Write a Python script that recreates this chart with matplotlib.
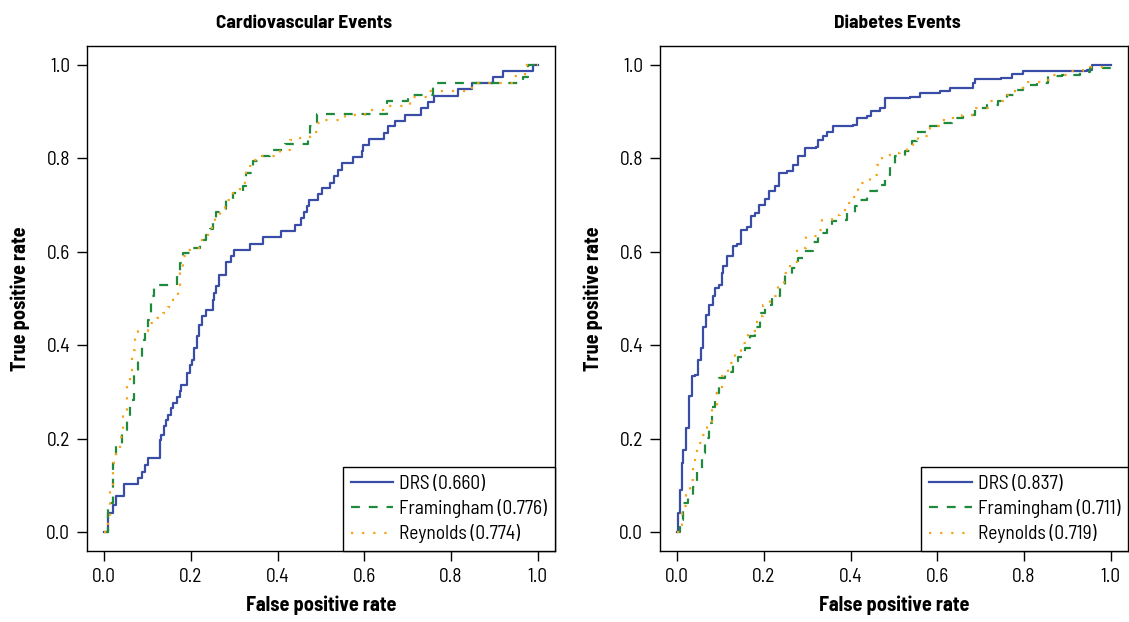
import matplotlib
matplotlib.use("Agg")
import matplotlib.pyplot as plt

plt.rcParams['font.family'] = ['Barlow Semi Condensed', 'DejaVu Sans']

# Cardiovascular events ROC curves (FPR, TPR)
cv_drs_fpr = [0, 0.009, 0.021, 0.026, 0.046, 0.078, 0.088, 0.094, 0.102, 0.128, 0.132, 0.138,
              0.142, 0.148, 0.153, 0.159, 0.167, 0.175, 0.178, 0.192, 0.198, 0.202, 0.208, 0.215,
              0.219, 0.225, 0.235, 0.250, 0.253, 0.259, 0.265, 0.280, 0.292, 0.299, 0.336, 0.367,
              0.408, 0.440, 0.455, 0.461, 0.467, 0.473, 0.494, 0.502, 0.521, 0.531, 0.540, 0.549,
              0.575, 0.594, 0.598, 0.611, 0.646, 0.655, 0.672, 0.694, 0.731, 0.748, 0.762, 0.817,
              0.848, 0.898, 0.921, 0.990, 1.0]
cv_drs_tpr = [0, 0.041, 0.059, 0.078, 0.104, 0.116, 0.130, 0.145, 0.158, 0.198, 0.209, 0.227,
              0.241, 0.252, 0.266, 0.277, 0.289, 0.303, 0.316, 0.341, 0.358, 0.369, 0.394, 0.419,
              0.444, 0.462, 0.475, 0.497, 0.512, 0.526, 0.551, 0.579, 0.592, 0.604, 0.617, 0.631,
              0.645, 0.658, 0.672, 0.686, 0.697, 0.710, 0.723, 0.736, 0.748, 0.763, 0.775, 0.790,
              0.803, 0.816, 0.829, 0.842, 0.855, 0.868, 0.880, 0.893, 0.907, 0.920, 0.934, 0.948,
              0.961, 0.974, 0.987, 1.0, 1.0]

cv_fram_fpr = [0, 0.009, 0.021, 0.028, 0.040, 0.052, 0.059, 0.068, 0.078, 0.086, 0.094, 0.102,
               0.107, 0.109, 0.115, 0.168, 0.175, 0.182, 0.205, 0.221, 0.235, 0.244, 0.252, 0.259,
               0.282, 0.298, 0.321, 0.328, 0.344, 0.363, 0.382, 0.417, 0.471, 0.475, 0.490, 0.652,
               0.702, 0.759, 0.967, 0.978, 1.0]
cv_fram_tpr = [0, 0.063, 0.148, 0.184, 0.220, 0.248, 0.284, 0.341, 0.369, 0.412, 0.430, 0.455,
               0.483, 0.505, 0.530, 0.555, 0.576, 0.597, 0.608, 0.626, 0.636, 0.649, 0.669, 0.686,
               0.711, 0.726, 0.740, 0.768, 0.795, 0.804, 0.818, 0.830, 0.843, 0.868, 0.895, 0.922,
               0.936, 0.961, 0.974, 1.0, 1.0]

cv_reyn_fpr = [0, 0.008, 0.013, 0.021, 0.028, 0.036, 0.044, 0.052, 0.059, 0.065, 0.071, 0.078,
               0.102, 0.121, 0.136, 0.148, 0.159, 0.171, 0.175, 0.182, 0.190, 0.209, 0.221, 0.240,
               0.248, 0.255, 0.267, 0.278, 0.298, 0.313, 0.325, 0.328, 0.344, 0.363, 0.405, 0.428,
               0.452, 0.475, 0.494, 0.509, 0.555, 0.602, 0.655, 0.705, 0.744, 0.848, 0.940, 0.971, 1.0]
cv_reyn_tpr = [0, 0.034, 0.091, 0.148, 0.180, 0.205, 0.252, 0.312, 0.341, 0.391, 0.419, 0.430,
               0.448, 0.458, 0.469, 0.483, 0.508, 0.530, 0.562, 0.590, 0.604, 0.608, 0.626, 0.640,
               0.658, 0.676, 0.694, 0.711, 0.729, 0.747, 0.768, 0.783, 0.797, 0.804, 0.818, 0.840,
               0.843, 0.857, 0.875, 0.882, 0.893, 0.904, 0.911, 0.932, 0.943, 0.961, 0.975, 1.0, 1.0]

# Diabetes events ROC curves
db_drs_fpr = [0, 0.002, 0.006, 0.010, 0.014, 0.020, 0.028, 0.033, 0.041, 0.048, 0.054, 0.060,
              0.066, 0.074, 0.082, 0.088, 0.096, 0.102, 0.106, 0.115, 0.129, 0.138, 0.146, 0.160,
              0.169, 0.179, 0.189, 0.202, 0.212, 0.225, 0.235, 0.254, 0.266, 0.279, 0.295, 0.320,
              0.325, 0.337, 0.345, 0.360, 0.406, 0.414, 0.437, 0.448, 0.468, 0.479, 0.537, 0.560,
              0.606, 0.629, 0.683, 0.687, 0.748, 0.772, 0.798, 0.945, 0.956, 1.0]
db_drs_tpr = [0, 0.041, 0.091, 0.148, 0.177, 0.223, 0.291, 0.334, 0.337, 0.369, 0.394, 0.440,
              0.465, 0.487, 0.505, 0.522, 0.530, 0.555, 0.569, 0.590, 0.612, 0.617, 0.647, 0.654,
              0.676, 0.683, 0.701, 0.713, 0.729, 0.740, 0.768, 0.772, 0.786, 0.804, 0.822, 0.825,
              0.840, 0.847, 0.857, 0.868, 0.872, 0.886, 0.890, 0.902, 0.907, 0.929, 0.932, 0.939,
              0.943, 0.950, 0.962, 0.969, 0.971, 0.981, 0.986, 0.988, 1.0, 1.0]

db_fram_fpr = [0, 0.006, 0.014, 0.025, 0.037, 0.045, 0.056, 0.064, 0.072, 0.079, 0.087, 0.095,
               0.110, 0.129, 0.141, 0.156, 0.168, 0.179, 0.191, 0.202, 0.218, 0.237, 0.248, 0.264,
               0.279, 0.291, 0.314, 0.325, 0.345, 0.356, 0.375, 0.391, 0.410, 0.422, 0.437, 0.460,
               0.479, 0.491, 0.502, 0.525, 0.541, 0.552, 0.583, 0.610, 0.633, 0.660, 0.687, 0.714,
               0.741, 0.760, 0.783, 0.798, 0.829, 0.856, 0.887, 0.929, 0.952, 1.0]
db_fram_tpr = [0, 0.027, 0.063, 0.081, 0.098, 0.134, 0.170, 0.202, 0.234, 0.269, 0.298, 0.330,
               0.344, 0.366, 0.376, 0.394, 0.419, 0.440, 0.469, 0.487, 0.505, 0.526, 0.551, 0.565,
               0.587, 0.601, 0.622, 0.640, 0.651, 0.665, 0.669, 0.683, 0.697, 0.711, 0.729, 0.743,
               0.765, 0.783, 0.804, 0.815, 0.836, 0.857, 0.868, 0.875, 0.886, 0.893, 0.907, 0.914,
               0.922, 0.936, 0.947, 0.957, 0.962, 0.976, 0.979, 0.984, 0.993, 0.993]

db_reyn_fpr = [0, 0.005, 0.010, 0.020, 0.029, 0.037, 0.045, 0.056, 0.068, 0.079, 0.091, 0.102,
               0.118, 0.133, 0.148, 0.164, 0.183, 0.198, 0.214, 0.233, 0.245, 0.260, 0.275, 0.298,
               0.322, 0.333, 0.356, 0.375, 0.395, 0.406, 0.418, 0.445, 0.460, 0.472, 0.491, 0.514,
               0.529, 0.545, 0.556, 0.583, 0.606, 0.629, 0.656, 0.687, 0.718, 0.752, 0.779, 0.798,
               0.841, 0.860, 0.906, 0.937, 0.952, 1.0]
db_reyn_tpr = [0, 0.016, 0.056, 0.081, 0.113, 0.155, 0.191, 0.209, 0.237, 0.262, 0.298, 0.334,
               0.362, 0.387, 0.405, 0.430, 0.462, 0.487, 0.505, 0.526, 0.555, 0.579, 0.608, 0.633,
               0.647, 0.669, 0.679, 0.690, 0.704, 0.718, 0.747, 0.765, 0.786, 0.808, 0.811, 0.818,
               0.825, 0.832, 0.847, 0.868, 0.882, 0.886, 0.893, 0.907, 0.922, 0.936, 0.947, 0.964,
               0.968, 0.979, 0.986, 0.989, 0.996, 0.996]

titles = ["Cardiovascular Events", "Diabetes Events"]
model_names = ["DRS", "Framingham", "Reynolds"]
cv_auc = ["0.660", "0.776", "0.774"]
db_auc = ["0.837", "0.711", "0.719"]
ticks = [0.0, 0.2, 0.4, 0.6, 0.8, 1.0]

colors = ["#3a4da6", "#1f8a3c", "#f5a31a"]
styles = [dict(linestyle="-"), dict(linestyle=(0, (4, 4))), dict(linestyle=(0, (1, 4)))]

panels = [
    ([(cv_drs_fpr, cv_drs_tpr), (cv_fram_fpr, cv_fram_tpr), (cv_reyn_fpr, cv_reyn_tpr)], cv_auc, 0.465),
    ([(db_drs_fpr, db_drs_tpr), (db_fram_fpr, db_fram_tpr), (db_reyn_fpr, db_reyn_tpr)], db_auc, 0.508),
]

fig = plt.figure(figsize=(11.29, 6.22), dpi=100)
axes = [fig.add_axes([0.077, 0.114, 0.4145, 0.812]),
        fig.add_axes([0.5846, 0.114, 0.4145, 0.812])]

for ax, title, (curves, aucs, tx) in zip(axes, titles, panels):
    for (fpr, tpr), name, auc, c, st in zip(curves, model_names, aucs, colors, styles):
        ax.plot(fpr, tpr, drawstyle="steps-post", color=c, lw=1.6,
                label=f"{name} ({auc})", **st)
    ax.set_xlim(-0.04, 1.04)
    ax.set_ylim(-0.04, 1.04)
    ax.set_xticks(ticks)
    ax.set_yticks(ticks)
    ax.set_xticklabels([f"{t:.1f}" for t in ticks])
    ax.set_yticklabels([f"{t:.1f}" for t in ticks])
    ax.tick_params(direction="out", length=7, width=1, labelsize=14, pad=5)
    for s in ax.spines.values():
        s.set_linewidth(1)
    ax.set_title(title, fontsize=14, fontweight="bold", pad=13, x=tx)
    ax.set_xlabel("False positive rate", fontsize=14.5, fontweight="bold", labelpad=7)
    ax.set_ylabel("True positive rate", fontsize=14.5, fontweight="bold", labelpad=12)
    leg = ax.legend(loc="lower right", borderaxespad=0, fancybox=False, fontsize=14,
                    handlelength=2.2, handletextpad=0.3, labelspacing=0.32,
                    borderpad=0.4, framealpha=1)
    leg.get_frame().set_edgecolor("black")
    leg.get_frame().set_linewidth(1)

fig.savefig("out.png", dpi=100)
